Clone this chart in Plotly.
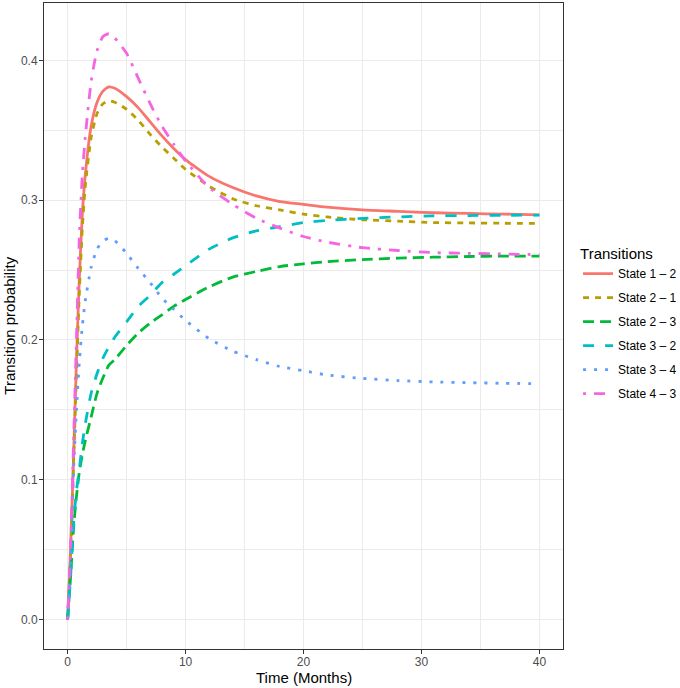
import plotly.graph_objects as go

# time grid (months)
time = [0, 0.25, 0.5, 0.75, 1, 1.25, 1.5, 2, 2.5, 3, 3.5, 4, 5, 6, 7, 8, 9, 10,
        12, 14, 16, 18, 20, 22, 25, 28, 31, 34, 37, 40]

p12 = [0, 0.05, 0.115, 0.185, 0.245, 0.29, 0.318, 0.353, 0.37, 0.378, 0.381, 0.38,
       0.374, 0.366, 0.356, 0.346, 0.337, 0.329, 0.317, 0.309, 0.303, 0.299, 0.297,
       0.295, 0.293, 0.292, 0.291, 0.2905, 0.29, 0.2895]
p21 = [0, 0.045, 0.11, 0.175, 0.235, 0.28, 0.31, 0.345, 0.362, 0.369, 0.371, 0.37,
       0.365, 0.357, 0.347, 0.338, 0.33, 0.322, 0.31, 0.301, 0.296, 0.293, 0.29,
       0.288, 0.286, 0.285, 0.284, 0.2837, 0.2835, 0.2833]
p23 = [0, 0.03, 0.065, 0.088, 0.106, 0.118, 0.128, 0.145, 0.162, 0.173, 0.182, 0.186,
       0.196, 0.205, 0.212, 0.218, 0.224, 0.229, 0.238, 0.245, 0.249, 0.2525, 0.2545,
       0.256, 0.2575, 0.2585, 0.2592, 0.2597, 0.26, 0.26]
p32 = [0, 0.03, 0.068, 0.092, 0.108, 0.126, 0.14, 0.162, 0.176, 0.187, 0.195, 0.202,
       0.213, 0.224, 0.232, 0.241, 0.247, 0.253, 0.265, 0.273, 0.278, 0.281, 0.284,
       0.2855, 0.287, 0.288, 0.2888, 0.289, 0.2892, 0.2893]
p34 = [0, 0.043, 0.105, 0.15, 0.185, 0.21, 0.228, 0.252, 0.265, 0.271, 0.2725, 0.271,
       0.262, 0.251, 0.241, 0.23, 0.222, 0.214, 0.201, 0.192, 0.186, 0.181, 0.178,
       0.175, 0.1725, 0.171, 0.17, 0.1695, 0.169, 0.1688]
p43 = [0, 0.05, 0.125, 0.2, 0.275, 0.318, 0.345, 0.385, 0.407, 0.417, 0.419, 0.416,
       0.405, 0.387, 0.369, 0.353, 0.34, 0.328, 0.309, 0.297, 0.287, 0.28, 0.274,
       0.27, 0.266, 0.264, 0.2625, 0.262, 0.2615, 0.261]

labels = ['State 1 \u2013 2', 'State 2 \u2013 1', 'State 2 \u2013 3',
          'State 3 \u2013 2', 'State 3 \u2013 4', 'State 4 \u2013 3']
series = [p12, p21, p23, p32, p34, p43]
colors = ['#F8766D', '#B79F00', '#00BA38', '#00BFC4', '#619CFF', '#F564E3']
dashes = ['solid', '6px,6px', '11px,6px', '11px,11px', '3px,8px', '3px,8px,11px,8px']

fig = go.Figure()
for i, (lab, ys) in enumerate(zip(labels, series)):
    fig.add_trace(go.Scatter(
        x=time, y=ys, mode='lines', name=lab, legendgroup=lab,
        line=dict(color=colors[i], width=2.8, dash=dashes[i], shape='spline', smoothing=0.6),
    ))

axis_common = dict(
    showgrid=True, gridcolor='#EBEBEB', gridwidth=1.3, zeroline=False,
    showline=True, linecolor='#333333', linewidth=1, mirror=True,
    ticks='outside', ticklen=4, tickcolor='#333333', tickwidth=1,
    tickfont=dict(family='Liberation Sans', size=12, color='#4D4D4D'),
    automargin=False,
)

fig.update_layout(
    width=680, height=688,
    paper_bgcolor='white', plot_bgcolor='white',
    margin=dict(l=44, r=117, t=3, b=39, autoexpand=False),
    font=dict(family='Liberation Sans'),
    xaxis=dict(range=[-2, 42], tickvals=[0, 10, 20, 30, 40], ticklabelstandoff=-2,
               minor=dict(tickvals=[5, 15, 25, 35], showgrid=True, gridcolor='#EBEBEB',
                          gridwidth=0.7, ticks=''),
               **axis_common),
    yaxis=dict(range=[-0.021, 0.441], tickvals=[0, 0.1, 0.2, 0.3, 0.4],
               ticktext=['0.0', '0.1', '0.2', '0.3', '0.4'], ticklabelstandoff=-1,
               minor=dict(tickvals=[0.05, 0.15, 0.25, 0.35], showgrid=True,
                          gridcolor='#EBEBEB', gridwidth=0.7, ticks=''),
               **axis_common),
    legend=dict(
        title=dict(text='Transitions', font=dict(size=15, color='black')),
        font=dict(size=12, color='black'),
        x=1.029, xanchor='left', y=0.503, yanchor='middle',
        tracegroupgap=5, bgcolor='rgba(0,0,0,0)',
    ),
    annotations=[
        dict(text='Time (Months)', xref='paper', yref='paper', x=0.5, y=-0.0445,
             xanchor='center', yanchor='middle', showarrow=False,
             font=dict(size=15, color='black')),
        dict(text='Transition probability', xref='paper', yref='paper', x=-0.068, y=0.5,
             xanchor='center', yanchor='middle', textangle=-90, showarrow=False,
             font=dict(size=15, color='black')),
    ],
)

# the page's default body margin shifts the figure by 8px; remove it
fig.write_html('out.html', config={'displayModeBar': False},
               post_script="document.body.style.margin='0';")
